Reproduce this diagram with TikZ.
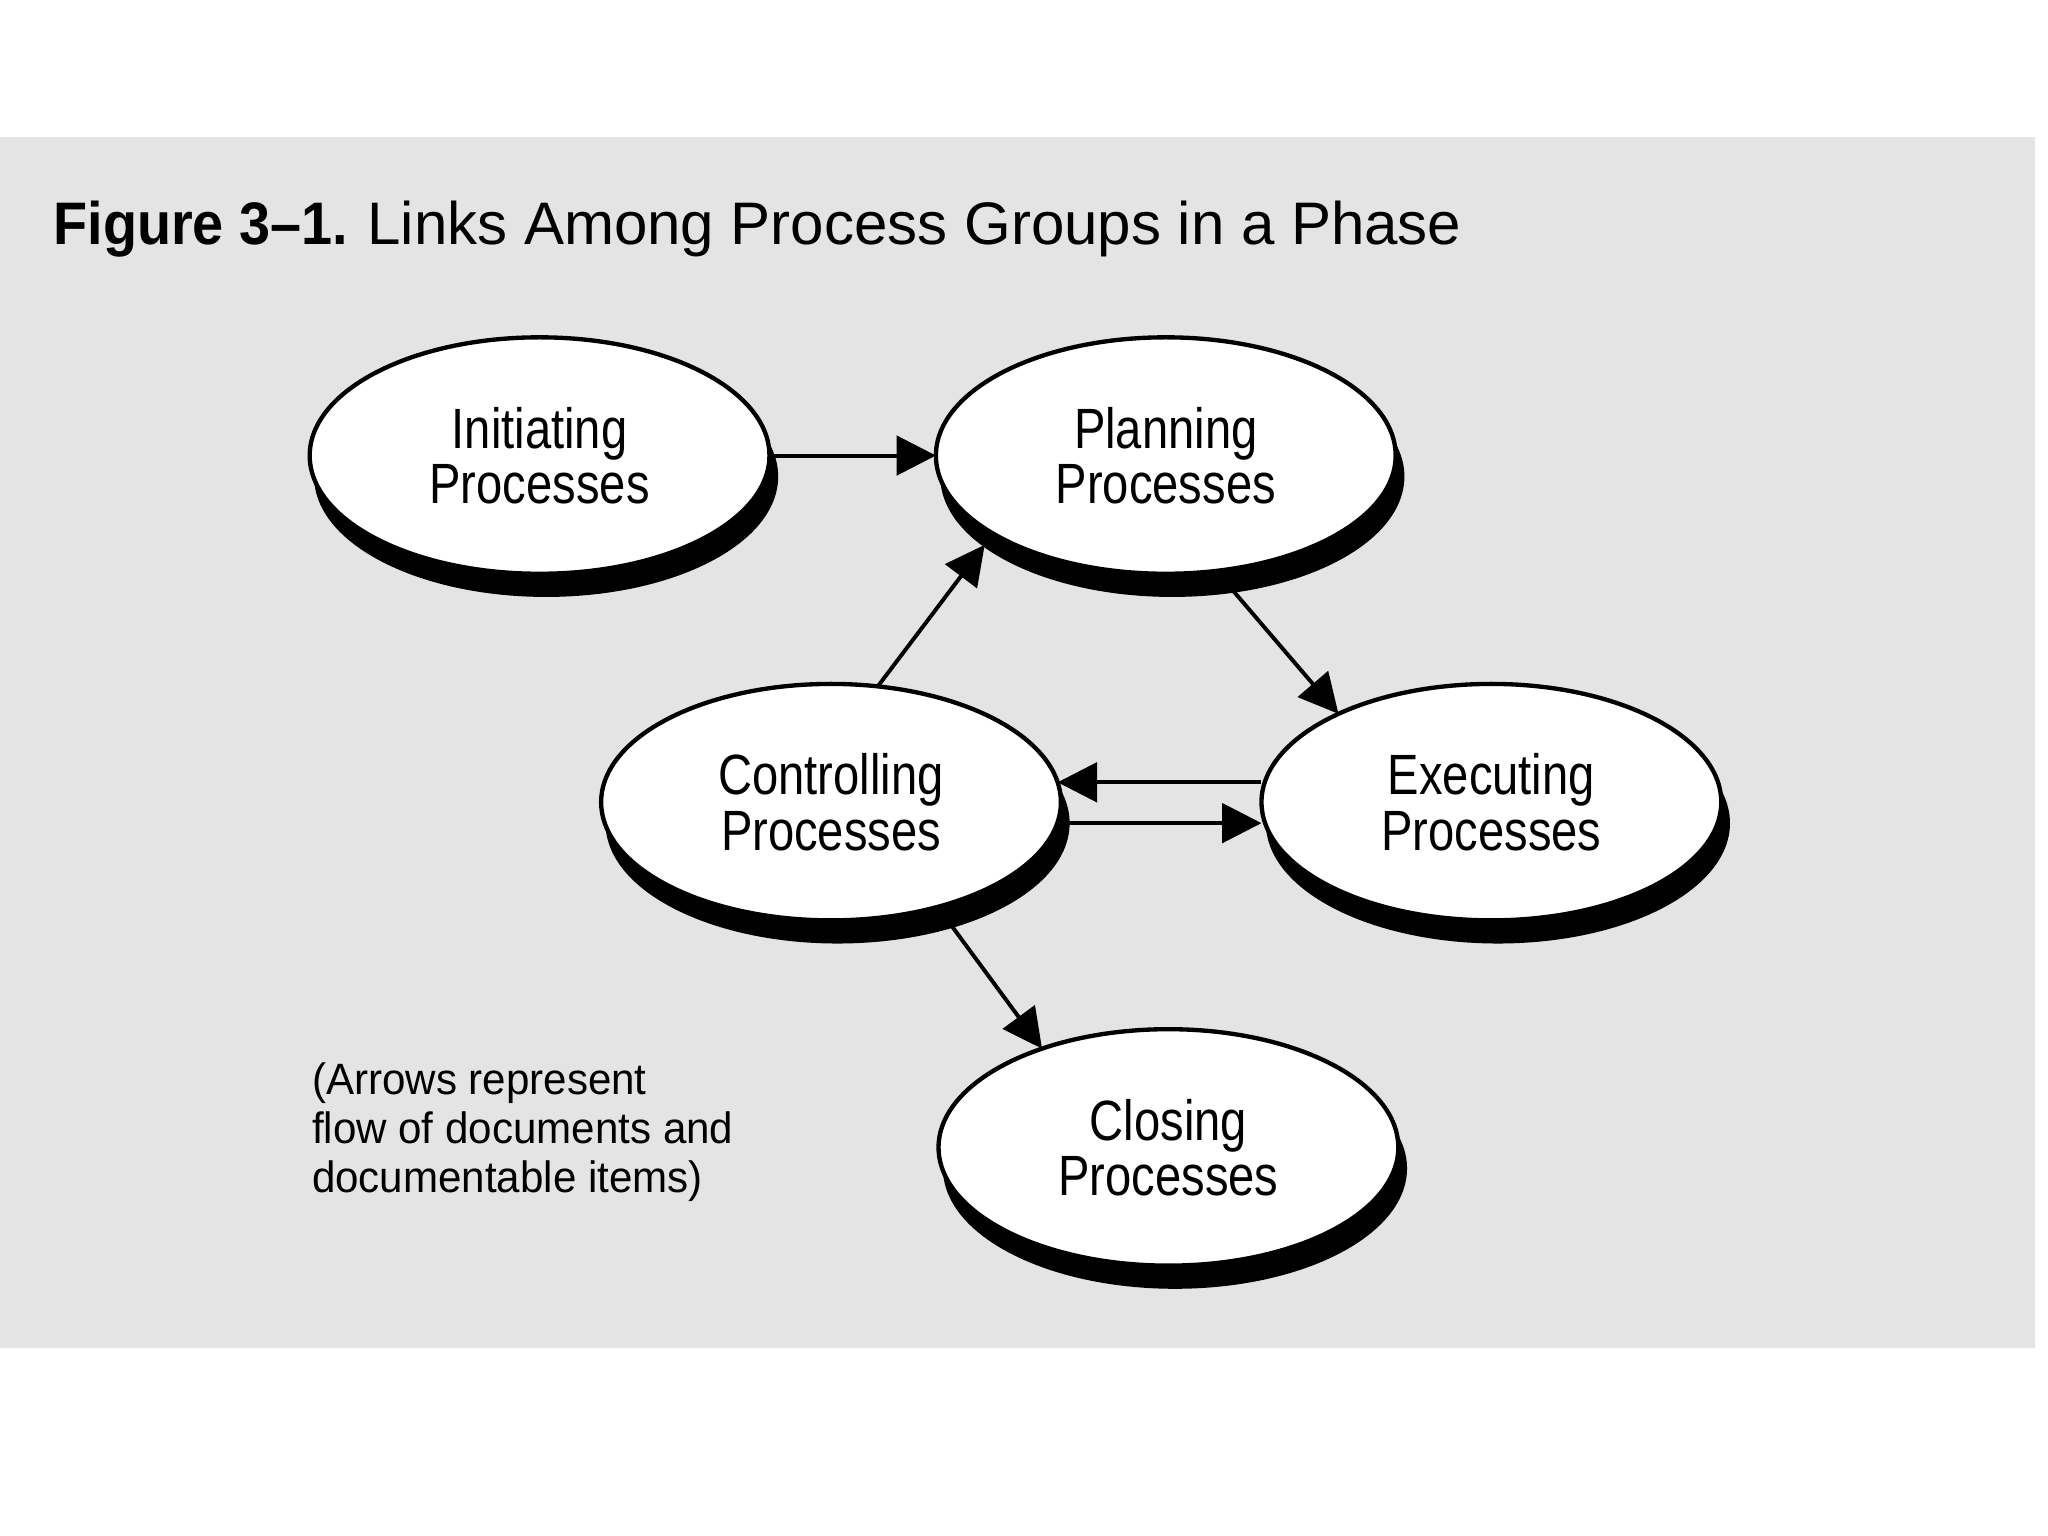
\documentclass[tikz,border=0pt]{standalone}
\usepackage{fontspec}
\setmainfont{Liberation Sans}
\newfontfamily\condfont[FakeStretch=0.83]{Liberation Sans}
\newfontfamily\notefont[FakeStretch=0.96]{Liberation Sans}
\newfontfamily\tboldfont[FakeStretch=0.93]{Liberation Sans}
\usetikzlibrary{arrows.meta,shapes.geometric}
\definecolor{bg}{HTML}{E4E4E4}
\begin{document}
\begin{tikzpicture}[x=0.01cm,y=-0.01cm,
  proc/.style={ellipse, draw=black, line width=0.033cm, fill=white,
    minimum width=3.5cm, minimum height=1.8cm, inner sep=0pt, outer sep=0pt,
    align=center, font=\condfont\fontsize{12.3pt}{11.95pt}\selectfont},
  shade/.style={ellipse, draw=black, fill=black, line width=0.033cm,
    minimum width=3.5cm, minimum height=1.8cm, inner sep=0pt, outer sep=0pt},
  arr/.style={line width=0.03cm, -{Triangle[length=0.3cm,width=0.3cm]}}]

\useasboundingbox (0,0) rectangle (1560,1170);
\fill[white] (0,0) rectangle (1560,1170);
\fill[bg] (0,104) rectangle (1550,1027);

% title
\node[anchor=base west, inner sep=0pt] (title) at (40,186)
  {\fontsize{13pt}{15pt}\selectfont{\tboldfont\bfseries Figure 3–1.}\hspace{-0.05em} Links Among Process Groups in a Phase};

% shadows
\node[shade] (initS)  at (416,363) {};
\node[shade] (planS)  at (893,363) {};
\node[shade] (ctrlS)  at (638,627) {};
\node[shade] (execS)  at (1141,627) {};
\node[shade] (closeS) at (895,890) {};

% process groups
\node[proc] (init)  at (411,347)  {Initiating\\Processes};
\node[proc] (plan)  at (888,347)  {Planning\\Processes};
\node[proc] (ctrl)  at (633,611)  {Controlling\\Processes};
\node[proc] (exec)  at (1136,611) {Executing\\Processes};
\node[proc] (close) at (890,874)  {Closing\\Processes};

% connectors
\draw[arr] (init.east) -- (plan.west);
\draw[arr] (ctrl.68) -- (planS.200);
\draw[arr] (planS.298) -- (exec.150);
\draw[arr] (ctrl.5 -| exec.west) -- (ctrl.5);
\draw[arr] (ctrlS.east) -- (ctrlS.east -| exec.west);
\draw[arr] (ctrlS.318) -- (close.142);

% note
\node[anchor=north west, inner sep=0pt, align=left,
  font=\notefont\fontsize{9.5pt}{10.6pt}\selectfont] (note) at (237,809)
  {(Arrows represent\\flow of documents and\\documentable items)};
\end{tikzpicture}
\end{document}
